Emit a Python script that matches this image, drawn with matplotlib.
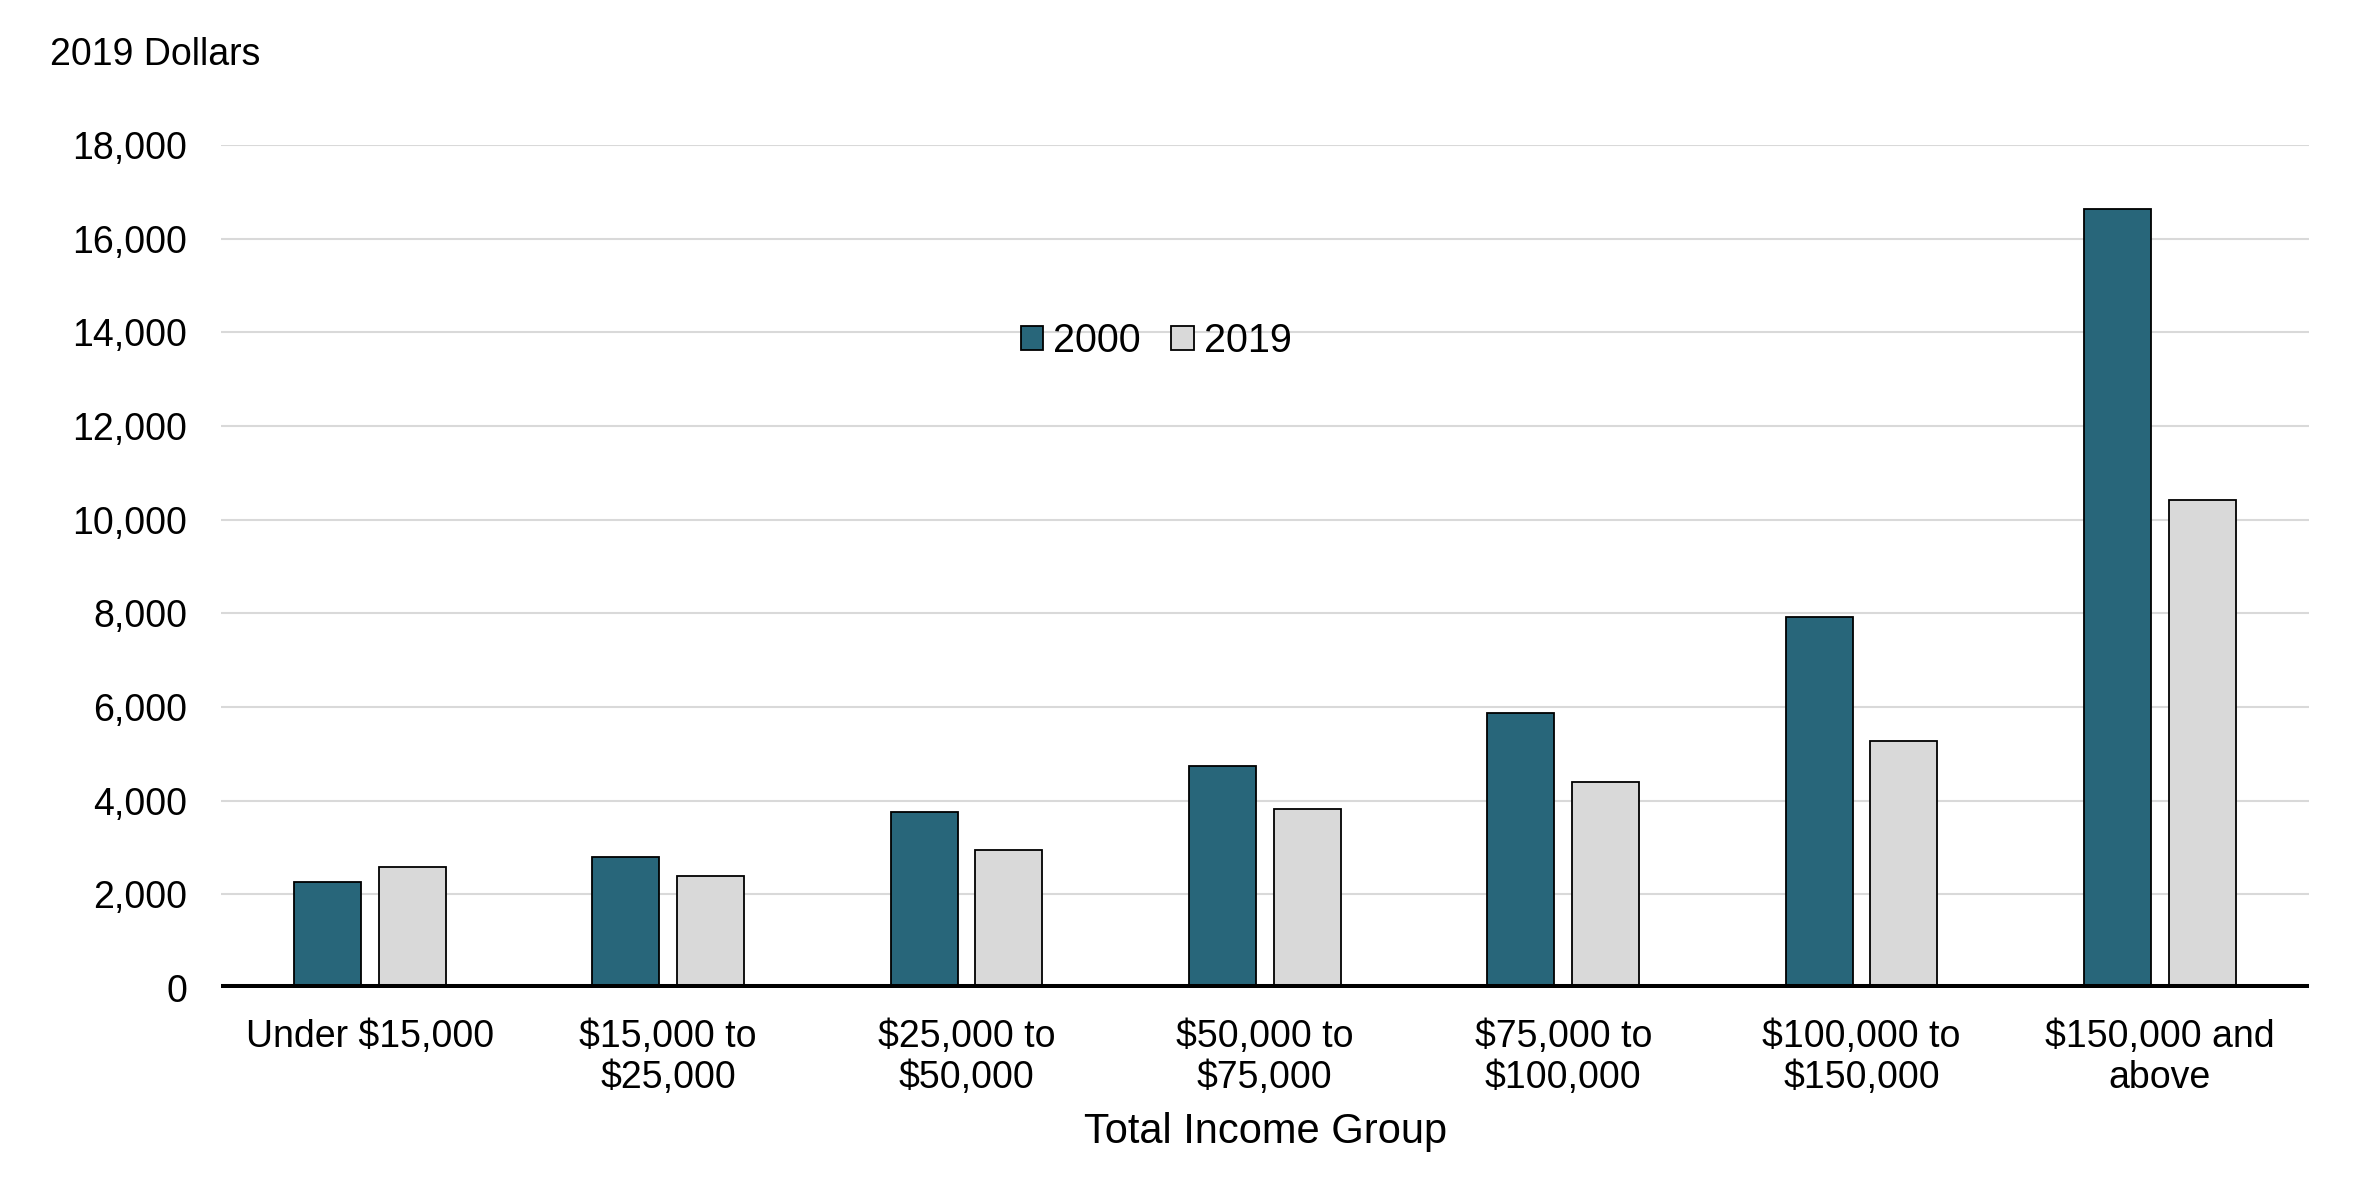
import numpy as np
import matplotlib
matplotlib.use("Agg")
import matplotlib.pyplot as plt

plt.rcParams['font.family'] = ['Liberation Sans', 'DejaVu Sans']

groups = ["Under $15,000", "$15,000 to\n$25,000", "$25,000 to\n$50,000",
          "$50,000 to\n$75,000", "$75,000 to\n$100,000", "$100,000 to\n$150,000",
          "$150,000 and\nabove"]
val_2000 = [2270, 2800, 3750, 4750, 5880, 7920, 16640]
val_2019 = [2585, 2395, 2950, 3820, 4400, 5270, 10430]
yticks = [0, 2000, 4000, 6000, 8000, 10000, 12000, 14000, 16000, 18000]

teal = "#28667A"
grey = "#D9D9D9"

fig = plt.figure(figsize=(23.62, 11.81), dpi=100)
ax = fig.add_axes([0.0934, 0.1634, 0.8842, 0.7138])

x = np.arange(len(groups))
w = 0.225
off = 0.142
ax.bar(x - off, val_2000, w, color=teal, edgecolor="black", linewidth=1.3, label="2000", zorder=3)
ax.bar(x + off, val_2019, w, color=grey, edgecolor="black", linewidth=1.3, label="2019", zorder=3)

ax.set_xlim(-0.5, len(groups) - 0.5)
ax.set_ylim(0, 18000)
ax.set_yticks(yticks)
ax.set_yticklabels([f"{v:,}" for v in yticks])
ax.set_xticks(x)
ax.set_xticklabels(groups, linespacing=1.2)
ax.tick_params(axis='y', length=0, pad=24, labelsize=27)
ax.tick_params(axis='x', length=0, pad=22, labelsize=27)
ax.grid(axis='y', color=grey, linewidth=1.5, zorder=0)
ax.axhline(0, color="black", linewidth=6.5, zorder=4)
for s in ax.spines.values():
    s.set_visible(False)

ax.legend(loc='center', bbox_to_anchor=(0.448, 0.7675), ncol=2, frameon=False,
          fontsize=28.5, handlelength=0.56, handleheight=0.56,
          handletextpad=0.26, columnspacing=0.77, borderpad=0)

fig.text(0.0212, 0.9534, "2019 Dollars", fontsize=27, ha='left', va='center')
fig.text(0.5356, 0.0417, "Total Income Group", fontsize=30, ha='center', va='center')

fig.savefig("out.png", dpi=100)
